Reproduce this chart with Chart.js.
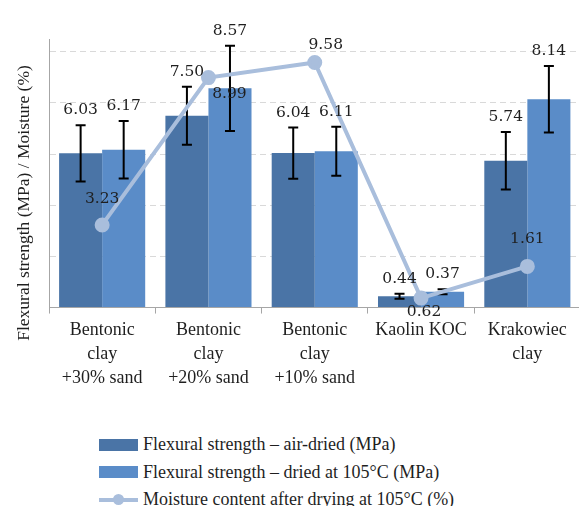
<!DOCTYPE html>
<html>
<head>
<meta charset="utf-8">
<script src="https://cdn.jsdelivr.net/npm/chart.js@4/dist/chart.umd.min.js"></script>
<style>
  body { margin: 0; overflow: hidden; background: #fff; width: 579px; height: 506px; position: relative; }
  #chart { position: absolute; left: 0; top: 0; }
  .legend { position: absolute; left: 99px; top: 431px; font-family: "Liberation Serif", serif; font-size: 18px; color: #1f1f1f; }
  .legend div { display: flex; align-items: center; height: 27.5px; }
  .legend .box { width: 39px; height: 12px; margin-right: 5px; }
  .legend .ln { width: 39px; height: 4px; margin-right: 5px; background: #a9bedc; position: relative; }
  .legend .ln::after { content: ""; position: absolute; left: 14px; top: -4px; width: 11px; height: 11px; border-radius: 50%; background: #a9bedc; }
</style>
</head>
<body>
<canvas id="chart" width="590" height="410"></canvas>
<div class="legend">
  <div><span class="box" style="background:#4a74a6"></span>Flexural strength – air-dried (MPa)</div>
  <div><span class="box" style="background:#5a8cc8"></span>Flexural strength – dried at 105°C (MPa)</div>
  <div><span class="ln"></span>Moisture content after drying at 105°C (%)</div>
</div>
<script>
const categories = [
  ['Bentonic', 'clay', '+30% sand'],
  ['Bentonic', 'clay', '+20% sand'],
  ['Bentonic', 'clay', '+10% sand'],
  'Kaolin KOC',
  ['Krakowiec', 'clay']
];
const airDried = [6.03, 7.50, 6.04, 0.44, 5.74];
const airDriedErr = [1.10, 1.13, 1.00, 0.10, 1.12];
const ovenDried = [6.17, 8.57, 6.11, 0.62, 8.14];
const ovenDriedErr = [1.12, 1.67, 0.96, 0.10, 1.30];
const moisture = [3.23, 8.99, 9.58, 0.37, 1.61];
// label texts as printed on the original figure
const airLabels = ['6.03', '7.50', '6.04', '0.44', '5.74'];
const ovenLabels = ['6.17', '8.57', '6.11', '0.37', '8.14'];
const moistureLabels = ['3.23', '8.99', '9.58', '0.62', '1.61'];
const yTicks = [0, 2, 4, 6, 8, 10];

const SERIF = '"Liberation Serif", serif';
const NUM_FONT = '15.5px "DejaVu Serif", serif';
const TEXT = '#1f1f1f';

// where the moisture labels sit relative to their point
const moistOffsets = [[0, -26], [21, 16], [11, -18], [3, 14], [0, -27]];

const errorBars = {
  id: 'errorBars',
  afterDatasetDraw(chart, args) {
    const errs = [airDriedErr, ovenDriedErr][args.index];
    if (!errs) return;
    const ctx = chart.ctx;
    const y = chart.scales.y;
    const vals = chart.data.datasets[args.index].data;
    ctx.save();
    ctx.strokeStyle = '#000';
    ctx.lineWidth = 2;
    args.meta.data.forEach((bar, i) => {
      const top = y.getPixelForValue(vals[i] + errs[i]);
      const bot = y.getPixelForValue(vals[i] - errs[i]);
      ctx.beginPath();
      ctx.moveTo(bar.x, top); ctx.lineTo(bar.x, bot);
      ctx.moveTo(bar.x - 5, top); ctx.lineTo(bar.x + 5, top);
      ctx.moveTo(bar.x - 5, bot); ctx.lineTo(bar.x + 5, bot);
      ctx.stroke();
    });
    ctx.restore();
  }
};

const valueLabels = {
  id: 'valueLabels',
  afterDatasetsDraw(chart) {
    const ctx = chart.ctx;
    const y = chart.scales.y;
    ctx.save();
    ctx.fillStyle = TEXT;
    ctx.textAlign = 'center';
    ctx.textBaseline = 'middle';
    ctx.font = NUM_FONT;
    [[airDried, airDriedErr, airLabels], [ovenDried, ovenDriedErr, ovenLabels]].forEach(([vals, errs, txt], d) => {
      chart.getDatasetMeta(d).data.forEach((bar, i) => {
        ctx.fillText(txt[i], bar.x, y.getPixelForValue(vals[i] + errs[i]) - 15);
      });
    });
    chart.getDatasetMeta(2).data.forEach((pt, i) => {
      ctx.fillText(moistureLabels[i], pt.x + moistOffsets[i][0], pt.y + moistOffsets[i][1]);
    });
    // y axis title, placed like the original (not centred on the plot)
    ctx.font = '17.5px ' + SERIF;
    ctx.translate(24, 203);
    ctx.rotate(-Math.PI / 2);
    ctx.fillText('Flexural strength (MPa) / Moisture (%)', 0, 0);
    ctx.restore();
  }
};

new Chart(document.getElementById('chart'), {
  type: 'bar',
  data: {
    labels: categories,
    datasets: [
      {
        label: 'Flexural strength – air-dried (MPa)',
        data: airDried,
        backgroundColor: '#4a74a6',
        categoryPercentage: 0.81,
        barPercentage: 1.0,
        order: 1
      },
      {
        label: 'Flexural strength – dried at 105°C (MPa)',
        data: ovenDried,
        backgroundColor: '#5a8cc8',
        categoryPercentage: 0.81,
        barPercentage: 1.0,
        order: 1
      },
      {
        type: 'line',
        label: 'Moisture content after drying at 105°C (%)',
        data: moisture,
        borderColor: '#a9bedc',
        backgroundColor: '#a9bedc',
        borderWidth: 4,
        pointRadius: 5.5,
        pointHoverRadius: 5.5,
        tension: 0,
        order: 0
      }
    ]
  },
  plugins: [errorBars, valueLabels],
  options: {
    responsive: false,
    animation: false,
    events: [],
    layout: { padding: { left: 49, top: 39, right: 3.5, bottom: 15 } },
    plugins: {
      legend: { display: false },
      tooltip: { enabled: false }
    },
    scales: {
      x: {
        grid: { offset: true, drawOnChartArea: false, tickLength: 6, color: '#a6a6a6' },
        border: { color: '#a6a6a6', width: 1 },
        ticks: {
          color: TEXT,
          font: { family: SERIF, size: 18, lineHeight: 1.36 },
          padding: 4,
          maxRotation: 0,
          autoSkip: false
        }
      },
      y: {
        min: 0,
        max: 10.5,
        afterBuildTicks: (axis) => { axis.ticks = yTicks.map((v) => ({ value: v })); },
        ticks: { display: false },
        grid: {
          drawTicks: false,
          color: (c) => (c.tick && c.tick.value > 0 ? '#d9d9d9' : 'rgba(0,0,0,0)')
        },
        border: { color: '#a6a6a6', width: 1, dash: [6, 4] }
      }
    }
  }
});
</script>
</body>
</html>
